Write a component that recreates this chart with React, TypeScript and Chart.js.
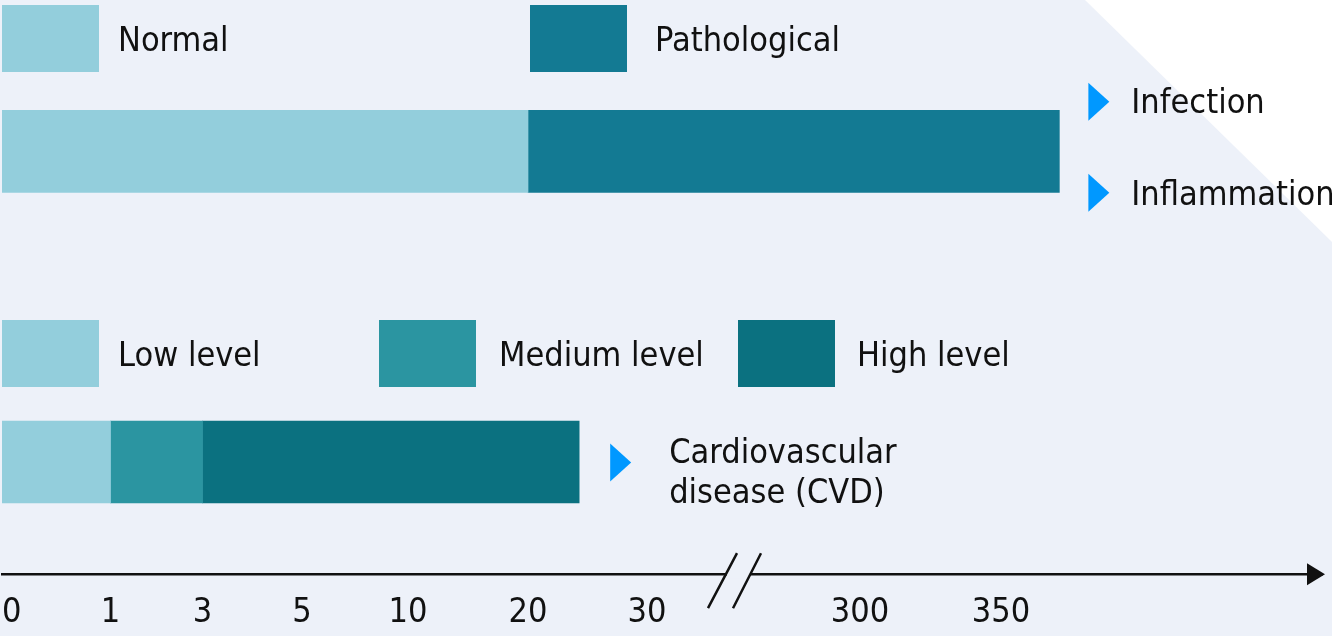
import React, { useEffect, useRef } from 'react';
import { Chart, registerables, LinearScale } from 'chart.js';

Chart.register(...registerables);

// ---------- data ----------
const TICK_VALUES = [0, 1, 3, 5, 10, 20, 30, 300, 350];
const AXIS_MAX = 460;

const ACUTE_LABELS = ['Normal', 'Pathological'];
const ACUTE_RANGES: [number, number][] = [
  [0, 20],
  [20, 370],
];
const ACUTE_NOTES = ['Infection', 'Inflammation'];

const CVD_LABELS = ['Low level', 'Medium level', 'High level'];
const CVD_RANGES: [number, number][] = [
  [0, 1],
  [1, 3],
  [3, 24.3],
];
const CVD_NOTE = ['Cardiovascular', 'disease (CVD)'];

const ROW_ACUTE = 1;
const ROW_CVD = 2;

// ---------- styles / layout ----------
const ACUTE_COLORS = ['#93CEDC', '#137A93'];
const CVD_COLORS = ['#93CEDC', '#2B95A1', '#0B7180'];
const BG = '#EDF1F9';
const ARROW = '#0098FF';
const INK = '#111111';
const FONT = "'DejaVu Sans Condensed', 'DejaVu Sans', sans-serif";
const FONT_SIZE = 34;

// where each axis stop sits along the (broken) axis, as a fraction of its width
const AXIS_STOP_FRACTIONS = [0, 0.0822, 0.1519, 0.2273, 0.3076, 0.3985, 0.4886, 0.65, 0.7568, 1];

class BrokenLinearScale extends LinearScale {
  static id = 'brokenLinear';
  _stops() {
    return [...TICK_VALUES, AXIS_MAX];
  }
  getPixelForValue(value: number) {
    if (value === null || value === undefined || isNaN(value)) return NaN;
    const s = this._stops();
    const f = AXIS_STOP_FRACTIONS;
    let i = 0;
    while (i < s.length - 2 && value > s[i + 1]) i++;
    const frac = f[i] + ((value - s[i]) * (f[i + 1] - f[i])) / (s[i + 1] - s[i]);
    return (this as any).left + frac * (this as any).width;
  }
  getValueForPixel(pixel: number) {
    const s = this._stops();
    const f = AXIS_STOP_FRACTIONS;
    const frac = (pixel - (this as any).left) / (this as any).width;
    let i = 0;
    while (i < f.length - 2 && frac > f[i + 1]) i++;
    return s[i] + ((frac - f[i]) * (s[i + 1] - s[i])) / (f[i + 1] - f[i]);
  }
}
Chart.register(BrokenLinearScale as any);

function triangle(ctx: CanvasRenderingContext2D, x: number, cy: number) {
  ctx.beginPath();
  ctx.moveTo(x, cy - 19);
  ctx.lineTo(x + 21, cy);
  ctx.lineTo(x, cy + 19);
  ctx.closePath();
  ctx.fillStyle = ARROW;
  ctx.fill();
}

function legendItem(ctx: CanvasRenderingContext2D, boxX: number, top: number, color: string, label: string, textX: number, baseline: number) {
  ctx.fillStyle = color;
  ctx.fillRect(boxX, top, 97, 67);
  ctx.fillStyle = INK;
  ctx.fillText(label, textX, baseline);
}

const decorPlugin = {
  id: 'decor',
  beforeDraw(chart: any) {
    const { ctx, width, height } = chart;
    ctx.save();
    ctx.fillStyle = BG;
    ctx.fillRect(0, 0, width, height);
    ctx.fillStyle = '#FFFFFF';
    ctx.beginPath();
    ctx.moveTo(1085, 0);
    ctx.lineTo(width, 0);
    ctx.lineTo(width, 242);
    ctx.closePath();
    ctx.fill();
    ctx.restore();
  },
  afterDraw(chart: any) {
    const { ctx, chartArea } = chart;
    const xs = chart.scales.x;
    const ys = chart.scales.y;
    ctx.save();
    ctx.font = `${FONT_SIZE}px ${FONT}`;
    ctx.textBaseline = 'alphabetic';
    ctx.textAlign = 'left';

    // legends
    legendItem(ctx, 2, 5, ACUTE_COLORS[0], ACUTE_LABELS[0], 118, 51);
    legendItem(ctx, 530, 5, ACUTE_COLORS[1], ACUTE_LABELS[1], 655, 51);
    legendItem(ctx, 2, 320, CVD_COLORS[0], CVD_LABELS[0], 118, 366);
    legendItem(ctx, 379, 320, CVD_COLORS[1], CVD_LABELS[1], 499, 366);
    legendItem(ctx, 738, 320, CVD_COLORS[2], CVD_LABELS[2], 857, 366);

    // notes for the acute bar
    const acuteEnd = xs.getPixelForValue(ACUTE_RANGES[ACUTE_RANGES.length - 1][1]);
    const acuteY = ys.getPixelForValue(ROW_ACUTE);
    triangle(ctx, acuteEnd + 29, acuteY - 49.5);
    triangle(ctx, acuteEnd + 29, acuteY + 41.5);
    ctx.fillStyle = INK;
    ctx.fillText(ACUTE_NOTES[0], acuteEnd + 72, acuteY - 38);
    ctx.fillText(ACUTE_NOTES[1], acuteEnd + 72, acuteY + 54);

    // note for the CVD bar
    const cvdEnd = xs.getPixelForValue(CVD_RANGES[CVD_RANGES.length - 1][1]);
    const cvdY = ys.getPixelForValue(ROW_CVD);
    triangle(ctx, cvdEnd + 31, cvdY + 0.5);
    ctx.fillStyle = INK;
    ctx.fillText(CVD_NOTE[0], cvdEnd + 90, cvdY + 1);
    ctx.fillText(CVD_NOTE[1], cvdEnd + 90, cvdY + 41);

    // axis arrow head
    const ay = chartArea.bottom;
    const r = chartArea.right;
    ctx.fillStyle = INK;
    ctx.beginPath();
    ctx.moveTo(r - 15, ay - 11);
    ctx.lineTo(r + 3, ay);
    ctx.lineTo(r - 15, ay + 11);
    ctx.closePath();
    ctx.fill();

    // axis break
    const bx = 738;
    ctx.fillStyle = BG;
    ctx.fillRect(bx - 11, ay - 4, 23, 8);
    ctx.strokeStyle = INK;
    ctx.lineWidth = 2.5;
    ctx.beginPath();
    ctx.moveTo(bx - 30, ay + 34);
    ctx.lineTo(bx - 1, ay - 21);
    ctx.moveTo(bx - 5, ay + 34);
    ctx.lineTo(bx + 23, ay - 21);
    ctx.stroke();
    ctx.restore();
  },
};

export default function App() {
  const ref = useRef<HTMLCanvasElement>(null);
  useEffect(() => {
    document.body.style.margin = '0';
    const canvas = ref.current!;
    const datasets = [
      ...ACUTE_LABELS.map((label, i) => ({
        label,
        data: [{ x: ACUTE_RANGES[i], y: ROW_ACUTE }],
        backgroundColor: ACUTE_COLORS[i],
      })),
      ...CVD_LABELS.map((label, i) => ({
        label,
        data: [{ x: CVD_RANGES[i], y: ROW_CVD }],
        backgroundColor: CVD_COLORS[i],
      })),
    ].map((d) => ({ ...d, barThickness: 82, grouped: false, borderWidth: 0, borderSkipped: false }));

    const chart = new Chart(canvas, {
      type: 'bar',
      data: { datasets } as any,
      options: {
        indexAxis: 'y',
        responsive: false,
        animation: false,
        devicePixelRatio: 1,
        layout: { padding: { left: 2, right: 10, top: 0, bottom: 2 } },
        plugins: { legend: { display: false }, tooltip: { enabled: false } },
        scales: {
          x: {
            type: 'brokenLinear',
            position: 'bottom',
            min: 0,
            max: AXIS_MAX,
            grid: { display: false, drawTicks: true, tickLength: 19 },
            border: { display: true, color: INK, width: 2.5 },
            afterBuildTicks: (scale: any) => {
              scale.ticks = [...TICK_VALUES, AXIS_MAX].map((value) => ({ value }));
            },
            ticks: {
              autoSkip: false,
              maxRotation: 0,
              minRotation: 0,
              align: 'inner',
              padding: 0,
              color: INK,
              font: { family: FONT, size: FONT_SIZE },
              callback: (v: any) => (v === AXIS_MAX ? '' : String(v)),
            },
          } as any,
          y: { type: 'linear', display: false, reverse: true, min: 0.513, max: 2.361, bounds: 'data', offset: false },
        },
      } as any,
      plugins: [decorPlugin],
    });
    return () => chart.destroy();
  }, []);
  return (
    <div style={{ width: 1332, height: 636 }}>
      <canvas ref={ref} width={1332} height={636} style={{ display: 'block' }} />
    </div>
  );
}
